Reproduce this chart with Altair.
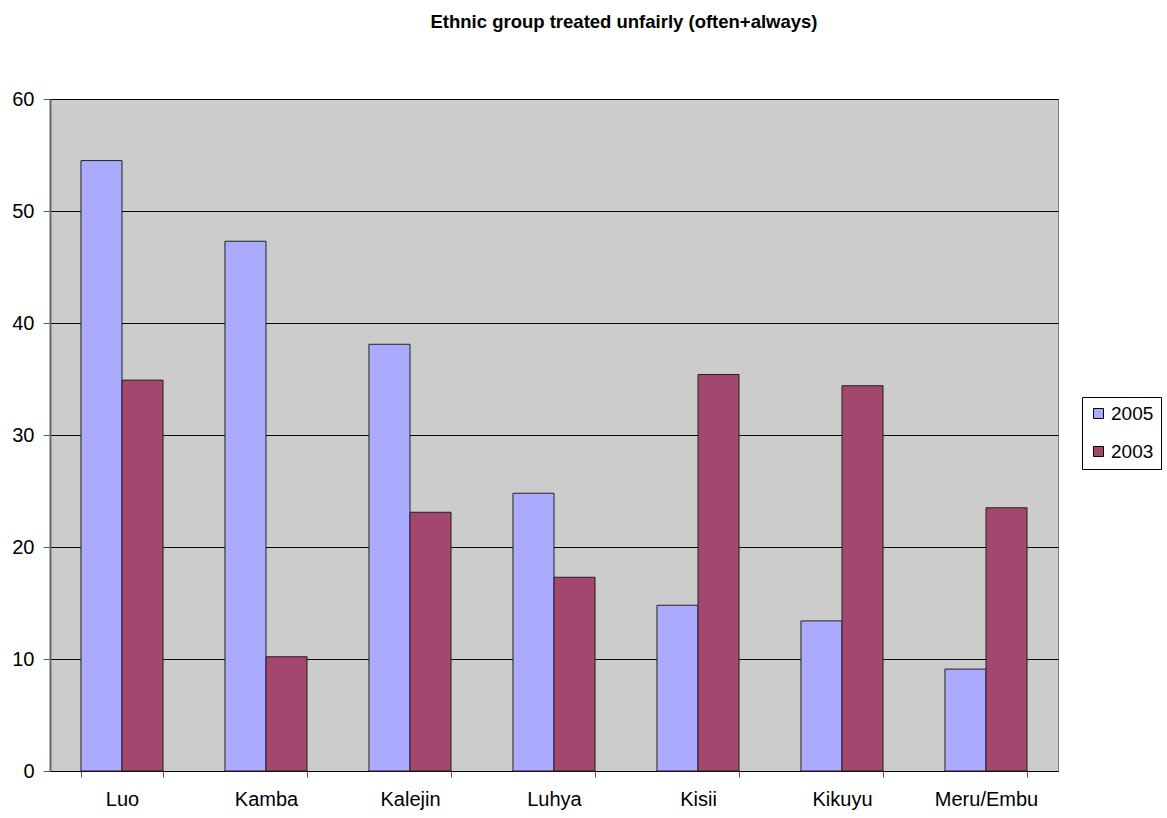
import altair as alt
import pandas as pd

# Share of each ethnic group reporting unfair treatment (often + always), in %
groups = ["Luo", "Kamba", "Kalejin", "Luhya", "Kisii", "Kikuyu", "Meru/Embu"]
years = ["2005", "2003"]
values_2005 = [54.5, 47.3, 38.1, 24.8, 14.8, 13.4, 9.1]
values_2003 = [34.9, 10.2, 23.1, 17.3, 35.4, 34.4, 23.5]
year_colors = ["#AAAAFF", "#A4476F"]

rows = []
for g, a, b in zip(groups, values_2005, values_2003):
    rows.append({"group": g, "year": "2005", "value": a})
    rows.append({"group": g, "year": "2003", "value": b})
df = pd.DataFrame(rows)

font = "Liberation Sans"

bars = alt.Chart(df).mark_bar(stroke="#222222", strokeWidth=1).encode(
    x=alt.X(
        "group:N",
        sort=groups,
        title=None,
        scale=alt.Scale(paddingInner=0.43, paddingOuter=0.215),
        axis=alt.Axis(
            labelAngle=0,
            labelFont=font,
            labelFontSize=20,
            labelColor="#000000",
            labelPadding=12,
            tickBand="extent",
            tickColor="#555555",
            tickSize=6,
            domainColor="#000000",
            grid=False,
        ),
    ),
    xOffset=alt.XOffset("year:N", sort=years),
    y=alt.Y(
        "value:Q",
        title=None,
        scale=alt.Scale(domain=[0, 60], nice=False),
        axis=alt.Axis(
            values=[0, 10, 20, 30, 40, 50, 60],
            labelFont=font,
            labelFontSize=20,
            labelColor="#000000",
            labelPadding=9,
            tickColor="#555555",
            tickSize=7,
            domainColor="#666666",
            domainWidth=2,
            gridColor="#000000",
            gridWidth=1,
        ),
    ),
    color=alt.Color(
        "year:N",
        sort=years,
        scale=alt.Scale(domain=years, range=year_colors),
        legend=alt.Legend(
            title=None,
            orient="none",
            legendX=1032,
            legendY=298,
            symbolType="square",
            symbolSize=100,
            symbolStrokeColor="#000000",
            symbolStrokeWidth=1,
            labelFont=font,
            labelFontSize=19,
            labelColor="#000000",
            labelOffset=3,
            rowPadding=18,
            padding=7,
            strokeColor="#000000",
            fillColor="#FFFFFF",
        ),
    ),
)

chart = bars.properties(
    width=1008,
    height=672,
    padding={"left": 50, "top": 99, "right": 109, "bottom": 47},
    autosize=alt.AutoSizeParams(type="none"),
    title=alt.Title(
        "Ethnic group treated unfairly (often+always)",
        font=font,
        fontSize=18.5,
        fontWeight="bold",
        color="#000000",
        anchor="middle",
        dx=70,
        offset=58,
    ),
).configure(
    background="#FFFFFF",
).configure_view(
    fill="#CCCCCC",
    stroke="#808080",
    strokeWidth=1,
)

chart.save("out.html", embed_options={"renderer": "svg", "actions": False})
